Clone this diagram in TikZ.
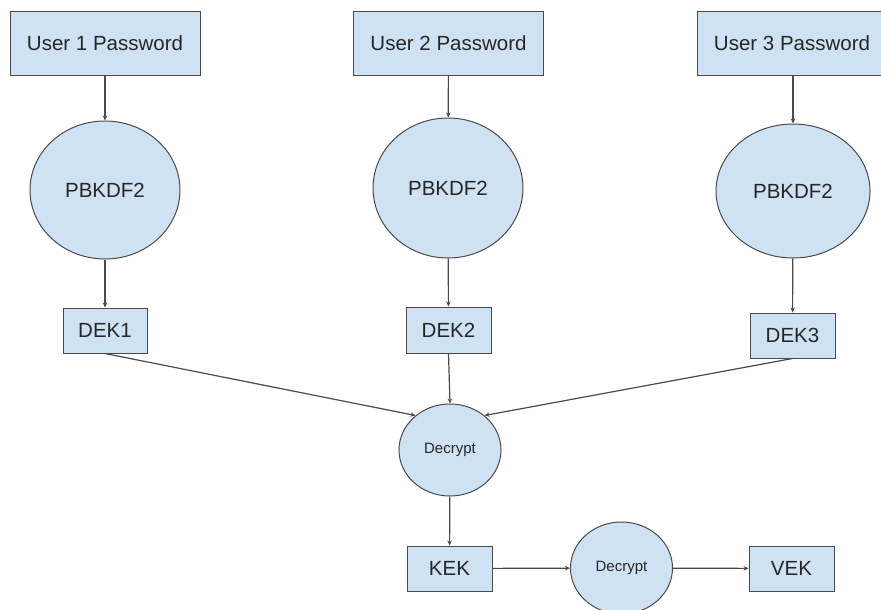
\documentclass[tikz,border=0pt]{standalone}
\usepackage{fontspec}
\setmainfont{Liberation Sans}
\usetikzlibrary{shapes.geometric,arrows.meta}
\definecolor{boxfill}{HTML}{CFE2F3}
\definecolor{edge}{HTML}{4A4A4A}
\definecolor{ink}{HTML}{262626}
\tikzset{
  keybox/.style={draw=edge, fill=boxfill, line width=1pt, inner sep=0pt,
    text=ink, font=\fontsize{20.5}{23}\selectfont},
  kdf/.style={ellipse, draw=edge, fill=boxfill, line width=1pt, inner sep=0pt,
    minimum width=150pt, minimum height=138pt, text=ink, font=\fontsize{20.5}{23}\selectfont},
  dec/.style={ellipse, draw=edge, fill=boxfill, line width=1pt, inner sep=0pt,
    minimum width=102pt, minimum height=92pt, text=ink, font=\fontsize{15}{17}\selectfont},
  flow/.style={draw=edge, line width=1.2pt, -{Stealth[length=5pt,width=4.5pt]}}
}
\begin{document}
\begin{tikzpicture}[x=1pt,y=-1pt]
  \useasboundingbox (0,0) rectangle (881,610);

  % password inputs
  \node[keybox, minimum width=190pt, minimum height=64pt] (u1) at (105,43.5) {User 1 Password};
  \node[keybox, minimum width=190pt, minimum height=64pt] (u2) at (448.5,43.5) {User 2 Password};
  \node[keybox, minimum width=190pt, minimum height=64pt] (u3) at (792,43.5) {User 3 Password};

  % key derivation
  \node[kdf] (k1) at (105,190) {PBKDF2};
  \node[kdf, minimum height=140pt] (k2) at (448,188) {PBKDF2};
  \node[kdf, minimum width=154pt, minimum height=134pt] (k3) at (793,191) {PBKDF2};

  % derived keys
  \node[keybox, minimum width=84pt, minimum height=45pt] (d1) at (105,330.5) {DEK1};
  \node[keybox, minimum width=85pt, minimum height=46pt] (d2) at (448.5,330) {DEK2};
  \node[keybox, minimum width=85pt, minimum height=45pt] (d3) at (792.5,335.5) {DEK3};

  % decryption chain
  \node[dec] (x1) at (450,450) {Decrypt};
  \node[keybox, minimum width=85pt, minimum height=45pt] (kek) at (449.5,568.5) {KEK};
  \node[dec] (x2) at (621.5,568) {Decrypt};
  \node[keybox, minimum width=85pt, minimum height=45pt] (vek) at (791.5,568.5) {VEK};

  % connectors
  \draw[flow] (u1) -- (k1);
  \draw[flow] (u2) -- (k2);
  \draw[flow] (u3.south -| k3) -- (k3);
  \draw[flow] (k1) -- (d1);
  \draw[flow] (k2) -- (d2);
  \draw[flow] (k3) -- (d3);
  \draw[flow] (d1.south) -- (x1.135);
  \draw[flow] (d2.south) -- (x1.north);
  \draw[flow] (d3.south) -- (x1.45);
  \draw[flow] (x1) -- (kek);
  \draw[flow] (kek) -- (x2);
  \draw[flow] (x2) -- (vek);
\end{tikzpicture}
\end{document}
